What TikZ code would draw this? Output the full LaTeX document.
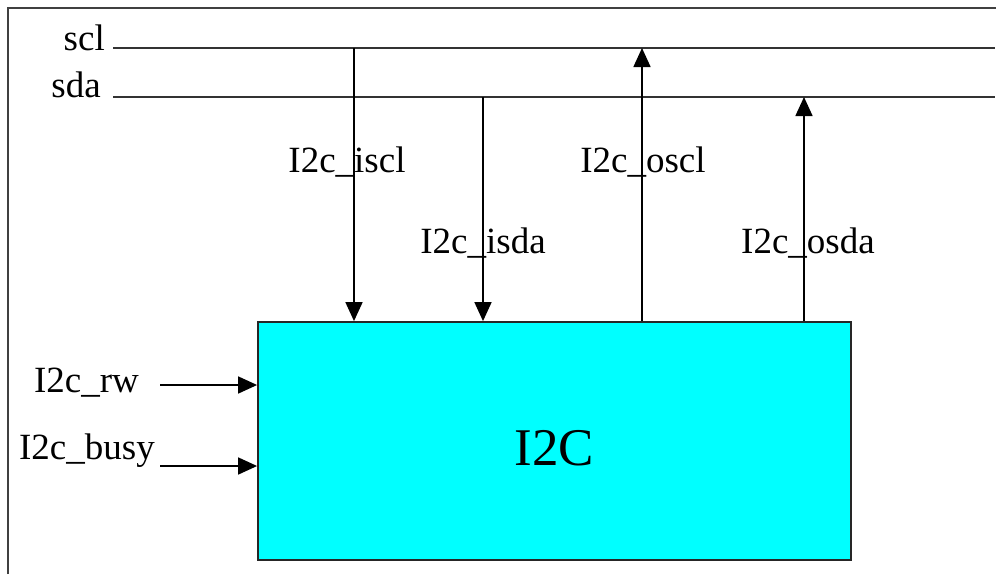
\documentclass[tikz,border=0pt]{standalone}
\usepackage{fontspec}
\setmainfont{Liberation Serif}
\usepackage{xcolor}
\usepackage{tikz}
\usetikzlibrary{positioning, arrows.meta}

\definecolor{blockcyan}{RGB}{0,255,255}

\begin{document}
\begin{tikzpicture}[
    x=1pt, y=-1pt,
    >={Triangle[length=19pt, width=17pt]},
    font=\fontsize{37}{42}\selectfont,
    frame/.style={draw=black!75, line width=2pt},
    bus/.style={draw=black!80, line width=1.6pt},
    sig/.style={->, line width=1.6pt, draw=black},
    block/.style={draw=black!85, line width=1.8pt, fill=blockcyan, minimum width=593pt, minimum height=238pt, text height=50pt, font=\fontsize{53}{60}\selectfont},
    lbl/.style={inner sep=0pt, anchor=center}
]
\useasboundingbox (0,0) rectangle (997,574);

% Frame
\draw[frame] (8,574) -- (8,8) -- (996,8);

% Nodes
\node[block] (i2c) at (554.5,441) {I2C};
\node[lbl, anchor=east] (scl) at (105,38) {scl};
\node[lbl, anchor=east] (sda) at (101,85) {sda};
\coordinate (scl w) at (113,48);
\coordinate (scl e) at (995,48);
\coordinate (sda w) at (113,97);
\coordinate (sda e) at (995,97);
\coordinate (iscl) at (354,48);
\coordinate (isda) at (483,97);
\coordinate (oscl) at (642,48);
\coordinate (osda) at (804,97);
\coordinate (rw) at (160,385);
\coordinate (busy) at (160,466);

\node[lbl] (l iscl) at (347,162) {I2c\_iscl};
\node[lbl] (l isda) at (483,243) {I2c\_isda};
\node[lbl] (l oscl) at (643,162) {I2c\_oscl};
\node[lbl] (l osda) at (808,243) {I2c\_osda};
\node[lbl, anchor=east] (l rw) at (139,383) {I2c\_rw};
\node[lbl, anchor=east] (l busy) at (155,451) {I2c\_busy};

% Edges
\draw[bus] (scl w) -- (scl e);
\draw[bus] (sda w) -- (sda e);
\draw[sig] (iscl) -- (iscl |- i2c.north);
\draw[sig] (isda) -- (isda |- i2c.north);
\draw[sig] (oscl |- i2c.north) -- (oscl);
\draw[sig] (osda |- i2c.north) -- (osda);
\draw[sig] (rw) -- (rw -| i2c.west);
\draw[sig] (busy) -- (busy -| i2c.west);
\end{tikzpicture}
\end{document}
